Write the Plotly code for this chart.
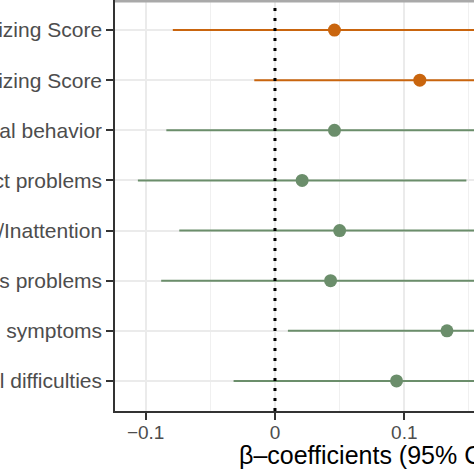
import plotly.graph_objects as go

# outcomes, top to bottom
outcomes = ['Externalizing Score', 'Internalizing Score', 'Prosocial behavior',
            'Conduct problems', 'Hyperactivity/Inattention', 'Peer relationships problems',
            'Emotional symptoms', 'Total difficulties']
beta = [0.046, 0.112, 0.046, 0.021, 0.050, 0.043, 0.133, 0.094]
ci_low = [-0.079, -0.016, -0.084, -0.106, -0.074, -0.088, 0.010, -0.032]
ci_high = [0.171, 0.240, 0.176, 0.148, 0.174, 0.174, 0.256, 0.220]
group = ['score', 'score', 'sdq', 'sdq', 'sdq', 'sdq', 'sdq', 'sdq']

colors = {'score': '#C9650E', 'sdq': '#6B8E6B'}

fig = go.Figure()

for g in ['score', 'sdq']:
    idx = [i for i in range(len(outcomes)) if group[i] == g]
    fig.add_trace(go.Scatter(
        x=[beta[i] for i in idx],
        y=[outcomes[i] for i in idx],
        mode='markers',
        marker=dict(size=13, color=colors[g]),
        error_x=dict(type='data', symmetric=False,
                     array=[ci_high[i] - beta[i] for i in idx],
                     arrayminus=[beta[i] - ci_low[i] for i in idx],
                     color=colors[g], thickness=2, width=0),
        showlegend=False))

# dotted reference line at zero
fig.add_vline(x=0, line=dict(color='black', width=3, dash='3px,7px'))

# grey strip edge at the top of the panel
fig.add_shape(type='rect', xref='paper', yref='paper', x0=0, x1=1, y0=0.994, y1=1.01,
              fillcolor='#A9A9A9', line_width=0)

fig.add_annotation(text='β–coefficients (95% CI)', xref='paper', yref='paper',
                   x=0.705, y=-0.107, xanchor='center', yanchor='middle', showarrow=False,
                   font=dict(size=25, color='black', family='Liberation Sans, Arial, sans-serif'))

fig.update_xaxes(range=[-0.1237, 0.1539], tickvals=[-0.1, 0, 0.1], ticks='outside',
                 ticklen=7, tickwidth=1.5, tickcolor='#333333', showline=True,
                 linecolor='#333333', linewidth=1.5, showgrid=True, gridcolor='#EBEBEB',
                 gridwidth=1.5, zeroline=False, automargin=False, ticklabelstandoff=-4,
                 tickfont=dict(size=19, color='#4D4D4D'),
                 minor=dict(tickvals=[-0.05, 0.05, 0.15], showgrid=True,
                            gridcolor='#F0F0F0', gridwidth=1.3, ticks=''))
fig.update_yaxes(categoryorder='array', categoryarray=outcomes[::-1],
                 range=[-0.6, 7.6], ticks='outside', ticklen=7, tickwidth=1.5,
                 tickcolor='#333333', showline=True, linecolor='#333333', linewidth=1.5,
                 showgrid=True, gridcolor='#EBEBEB', gridwidth=1.5, zeroline=False,
                 automargin=False, tickfont=dict(size=21, color='#4D4D4D'))

fig.update_layout(width=474, height=474, template='none',
                  margin=dict(l=115, r=0, t=0, b=63),
                  plot_bgcolor='white', paper_bgcolor='white',
                  font=dict(family='Liberation Sans, Arial, sans-serif'))

fig.write_html("out.html", config={'displayModeBar': False},
               post_script="document.body.style.margin = '0';")
